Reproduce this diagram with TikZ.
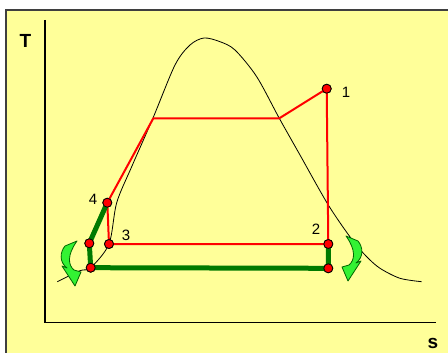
\documentclass[tikz,border=0pt]{standalone}
\usepackage{fontspec}
\setmainfont{Liberation Sans}
\usetikzlibrary{arrows.meta}
\definecolor{paper}{HTML}{FFFF99}
\definecolor{frame}{HTML}{3F3F3F}
\definecolor{cyclered}{HTML}{FF0000}
\definecolor{pumpgreen}{HTML}{007A00}
\definecolor{swirlfill}{HTML}{33F233}
\definecolor{swirledge}{HTML}{006600}
\tikzset{
  state/.style={
    circle,draw=black,fill=cyclered,line width=.8pt,
    inner sep=0pt,minimum size=9pt
  },
  num/.style={inner sep=0pt,font=\fontsize{15}{15}\selectfont},
  axislabel/.style={inner sep=0pt,font=\bfseries\fontsize{19}{19}\selectfont},
  axisline/.style={draw=black,line width=1.2pt},
  dome/.style={draw=black,line width=.8pt},
  redline/.style={draw=cyclered,line width=2pt,line join=round},
  greenline/.style={draw=pumpgreen,line width=5pt,line join=round},
  swirl/.pic={
    \draw[swirledge,fill=swirlfill,line width=.8pt,line join=round]
      (-6,-18) .. controls (-11,-12) and (-12,-2) .. (-4,4) -- (-9,2)
      -- (4,22) -- (10,8) -- (3,6) .. controls (-3,1) and (-4,-9) ..
      (6,-23) -- cycle;
  }
}

\begin{document}
\begin{tikzpicture}[x=1pt,y=-1pt]
\clip (0,0) rectangle (448,353);
\fill[paper] (6,10) rectangle (460,365);
\draw[frame,line width=1.5pt] (6,365) -- (6,10) -- (460,10);

% axes
\coordinate (ytop) at (45,20);
\coordinate (origin) at (45,322.7);
\coordinate (xend) at (436,322.7);
\draw[axisline] (ytop) -- (origin) -- (xend);
\node[axislabel] (tlabel) at (25.5,41) {T};
\node[axislabel] (slabel) at (433,343.5) {s};

% saturation dome
\draw[dome] plot[smooth] coordinates {
  (57.3,281.7) (80,270.7) (90.7,267.7) (109,244) (116.7,202.7)
  (131.7,166.7) (153,118) (175,65) (190,45) (204,38) (220,41.7)
  (235,50) (256.7,76.7) (279.3,118.3) (300,155) (328.3,205)
  (352.3,240) (366.7,256.7) (380,268.3) (400,278.3) (421.7,281.7)};

% states
\node[state] (p1) at (326.7,88.7) {};
\node[state] (p2) at (328.3,244) {};
\node[state] (p3) at (109,244) {};
\node[state] (p4) at (107.3,202.7) {};
\node[state] (g1) at (89.3,243.3) {};
\node[state] (g2) at (90.7,267.7) {};
\node[state] (g3) at (328.3,268.3) {};
\coordinate (vapour) at (279.3,118.3);
\coordinate (liquid) at (153.3,118.3);

\draw[redline] (p1.center) -- (vapour) -- (liquid) -- (p4.center)
  -- (p3.center) -- (p2.center) -- cycle;
\draw[greenline] (p4.center) -- (g1.center) -- (g2.center)
  -- (g3.center) -- (p2.center);

% redraw the points on top of the lines
\foreach \p in {p1,p2,p3,p4,g1,g2,g3}
  \node[state] at (\p) {};

\pic at (71,264) {swirl};
\pic[xscale=-1] at (352,259) {swirl};

\node[num] (n1) at (346,92) {1};
\node[num] (n2) at (316,229) {2};
\node[num] (n3) at (126,235.5) {3};
\node[num] (n4) at (93,199) {4};
\end{tikzpicture}
\end{document}
